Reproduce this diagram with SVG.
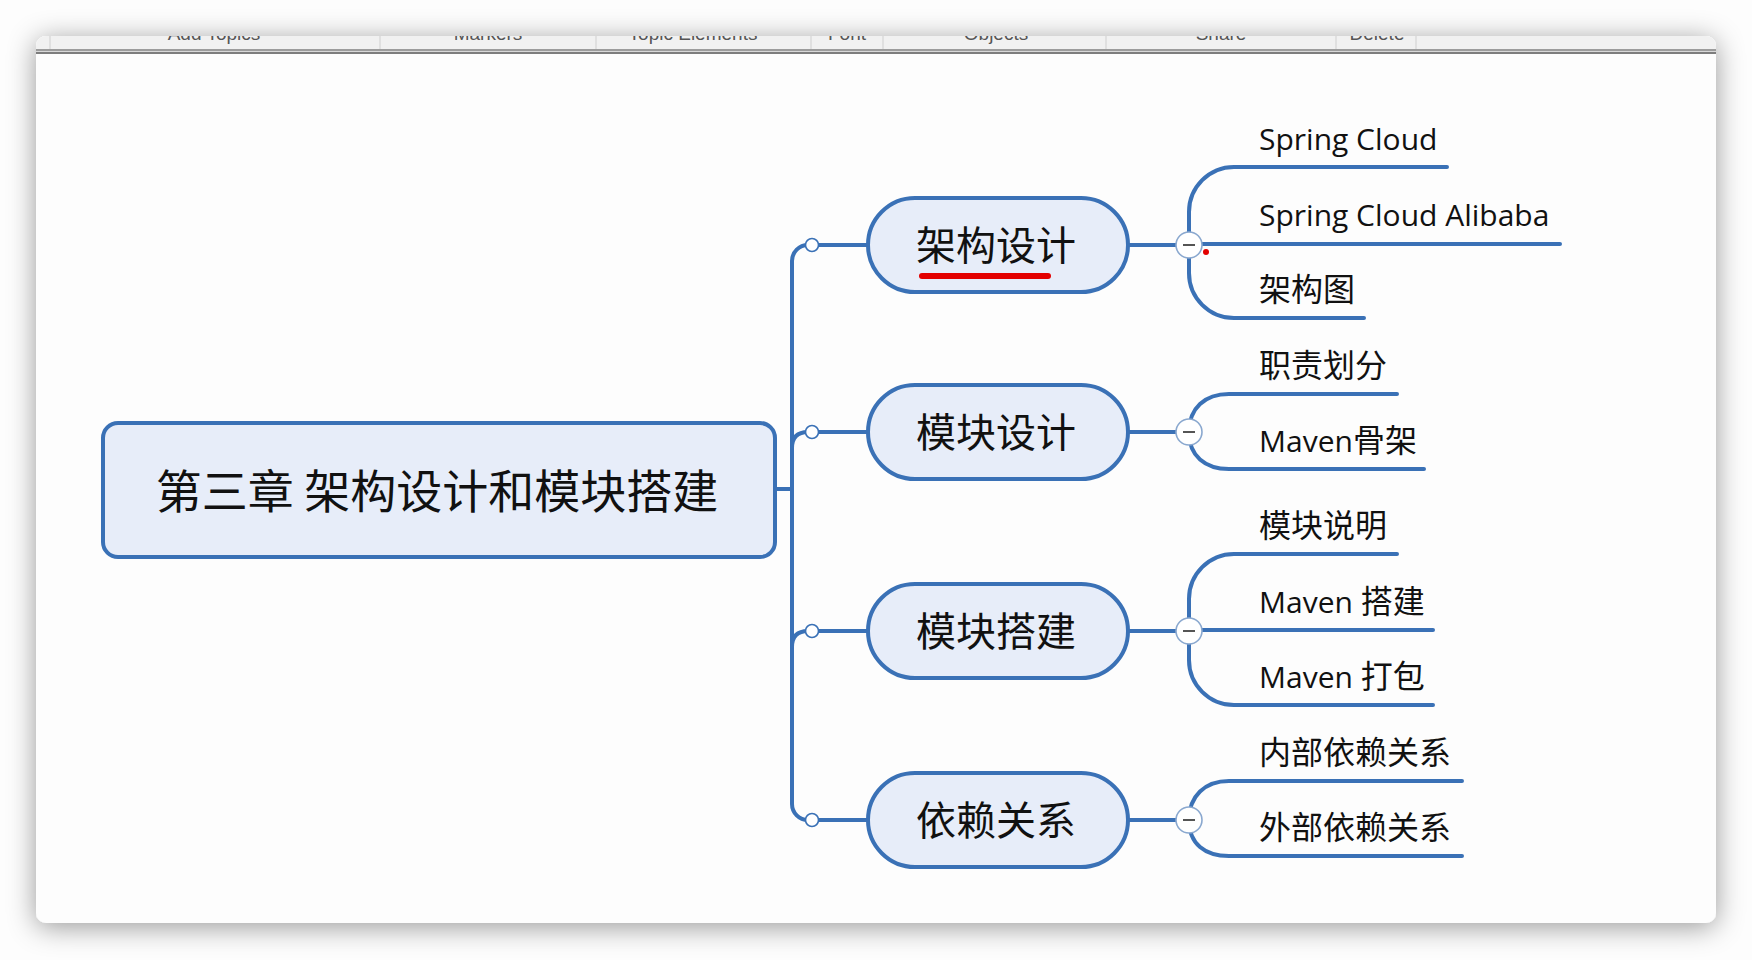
<svg xmlns="http://www.w3.org/2000/svg" width="1752" height="960" viewBox="0 0 1752 960">
<style>
.win{fill:#fdfdfd}
.tb{font-family:"Liberation Sans",sans-serif;font-size:19px;fill:#555;text-anchor:middle}
.sep{stroke:#cfcfcf;stroke-width:1}
.ln{fill:none;stroke:#3a71b6;stroke-width:4;stroke-linecap:round}
.root{fill:#e7edf9;stroke:#3a71b6;stroke-width:4}
.pill{fill:#e7edf9;stroke:#3a71b6;stroke-width:4}
.dot{fill:#fff;stroke:#3a71b6;stroke-width:1.6}
.col{fill:#fff;stroke:#8aa8cf;stroke-width:1.6}
.minus{stroke:#555;stroke-width:2}
.t0{font-family:"Noto Sans CJK SC",sans-serif;font-size:46px;fill:#111;text-anchor:middle}
.t1{font-family:"Noto Sans CJK SC",sans-serif;font-size:40px;fill:#111;text-anchor:middle}
.t2{font-family:"Open Sans","Noto Sans CJK SC",sans-serif;font-size:30px;fill:#111}
.cj{font-family:"Noto Sans CJK SC",sans-serif;font-size:32px}
</style>
<defs>
<filter id="sh" x="-10%" y="-10%" width="120%" height="125%">
<feDropShadow dx="0" dy="4" stdDeviation="14" flood-color="#000" flood-opacity="0.4"/>
</filter>
<clipPath id="wclip"><rect x="36" y="36" width="1680" height="887" rx="10"/></clipPath>
<clipPath id="tbclip"><rect x="36" y="36" width="1680" height="13"/></clipPath>
</defs>
<rect width="1752" height="960" fill="#fdfdfd"/>
<rect class="win" x="36" y="36" width="1680" height="887" rx="10" filter="url(#sh)"/>
<g id="toolbar" clip-path="url(#wclip)">
<rect x="36" y="36" width="1680" height="13" fill="#f1f1f1"/>
<g clip-path="url(#tbclip)">
<text class="tb" x="214" y="40">Add Topics</text>
<text class="tb" x="488" y="40">Markers</text>
<text class="tb" x="693" y="40">Topic Elements</text>
<text class="tb" x="847" y="40">Font</text>
<text class="tb" x="996" y="40">Objects</text>
<text class="tb" x="1221" y="40">Share</text>
<text class="tb" x="1377" y="40">Delete</text>
</g>
<line class="sep" x1="50" y1="36" x2="50" y2="49"/>
<line class="sep" x1="380" y1="36" x2="380" y2="49"/>
<line class="sep" x1="596" y1="36" x2="596" y2="49"/>
<line class="sep" x1="811" y1="36" x2="811" y2="49"/>
<line class="sep" x1="883" y1="36" x2="883" y2="49"/>
<line class="sep" x1="1106" y1="36" x2="1106" y2="49"/>
<line class="sep" x1="1336" y1="36" x2="1336" y2="49"/>
<line class="sep" x1="1416" y1="36" x2="1416" y2="49"/>
<rect x="36" y="49" width="1680" height="2" fill="#9c9c9c"/>
<rect x="36" y="51" width="1680" height="1" fill="#d8d8d8"/>
<rect x="36" y="52" width="1680" height="2" fill="#7d7d7d"/>
</g>

<g id="connectors">
<path class="ln" d="M776,489 H792"/>
<path class="ln" d="M808,245 A16,16 0 0 0 792,261 V804 A16,16 0 0 0 808,820"/>
<path class="ln" d="M792,448 Q792,432 808,432"/>
<path class="ln" d="M792,647 Q792,631 808,631"/>
<path class="ln" d="M808,245 H868 M808,432 H868 M808,631 H868 M808,820 H868"/>
<path class="ln" d="M1128,245 H1189 M1128,432 H1189 M1128,631 H1189 M1128,820 H1189"/>
<!-- group 1 -->
<path class="ln" d="M1189,244 V212 A45,45 0 0 1 1234,167 H1447"/>
<path class="ln" d="M1189,244 H1560"/>
<path class="ln" d="M1189,244 V273 A45,45 0 0 0 1234,318 H1364"/>
<!-- group 2 -->
<path class="ln" d="M1189,432 C1189,408 1205,394 1229,394 H1397"/>
<path class="ln" d="M1189,432 C1189,456 1205,469 1229,469 H1424"/>
<!-- group 3 -->
<path class="ln" d="M1189,631 V599 A45,45 0 0 1 1234,554 H1397"/>
<path class="ln" d="M1189,630 H1433"/>
<path class="ln" d="M1189,631 V660 A45,45 0 0 0 1234,705 H1433"/>
<!-- group 4 -->
<path class="ln" d="M1189,820 C1189,796 1205,781 1229,781 H1462"/>
<path class="ln" d="M1189,820 C1189,844 1205,856 1229,856 H1462"/>
</g>

<g id="root">
<rect class="root" x="103" y="423" width="672" height="134" rx="15"/>
<text class="t0" x="437" y="508">第三章 架构设计和模块搭建</text>
</g>

<g id="n-jiagou">
<rect class="pill" x="868" y="198" width="260" height="94" rx="47"/>
<text class="t1" x="996" y="260">架构设计</text>
<line x1="922" y1="276" x2="1048" y2="276" stroke="#e30000" stroke-width="6" stroke-linecap="round"/>
<circle class="dot" cx="812" cy="245" r="6.5"/>
<circle class="col" cx="1189" cy="245" r="13"/>
<line class="minus" x1="1183" y1="245" x2="1195" y2="245"/>
<circle cx="1206" cy="252" r="3" fill="#e30000"/>
</g>
<g id="n-mokuaisheji">
<rect class="pill" x="868" y="385" width="260" height="94" rx="47"/>
<text class="t1" x="996" y="447">模块设计</text>
<circle class="dot" cx="812" cy="432" r="6.5"/>
<circle class="col" cx="1189" cy="432" r="13"/>
<line class="minus" x1="1183" y1="432" x2="1195" y2="432"/>
</g>
<g id="n-mokuaidajian">
<rect class="pill" x="868" y="584" width="260" height="94" rx="47"/>
<text class="t1" x="996" y="646">模块搭建</text>
<circle class="dot" cx="812" cy="631" r="6.5"/>
<circle class="col" cx="1189" cy="631" r="13"/>
<line class="minus" x1="1183" y1="631" x2="1195" y2="631"/>
</g>
<g id="n-yilai">
<rect class="pill" x="868" y="773" width="260" height="94" rx="47"/>
<text class="t1" x="996" y="835">依赖关系</text>
<circle class="dot" cx="812" cy="820" r="6.5"/>
<circle class="col" cx="1189" cy="820" r="13"/>
<line class="minus" x1="1183" y1="820" x2="1195" y2="820"/>
</g>

<g id="leaf-springcloud"><text class="t2" x="1259" y="150">Spring Cloud</text></g>
<g id="leaf-alibaba"><text class="t2" x="1259" y="226">Spring Cloud Alibaba</text></g>
<g id="leaf-jiagoutu"><text class="t2" x="1259" y="301"><tspan class="cj">架构图</tspan></text></g>
<g id="leaf-zhize"><text class="t2" x="1259" y="377"><tspan class="cj">职责划分</tspan></text></g>
<g id="leaf-gujia"><text class="t2" x="1259" y="452">Maven<tspan class="cj">骨架</tspan></text></g>
<g id="leaf-shuoming"><text class="t2" x="1259" y="537"><tspan class="cj">模块说明</tspan></text></g>
<g id="leaf-dajian"><text class="t2" x="1259" y="613">Maven <tspan class="cj">搭建</tspan></text></g>
<g id="leaf-dabao"><text class="t2" x="1259" y="688">Maven <tspan class="cj">打包</tspan></text></g>
<g id="leaf-neibu"><text class="t2" x="1259" y="764"><tspan class="cj">内部依赖关系</tspan></text></g>
<g id="leaf-waibu"><text class="t2" x="1259" y="839"><tspan class="cj">外部依赖关系</tspan></text></g>
</svg>
